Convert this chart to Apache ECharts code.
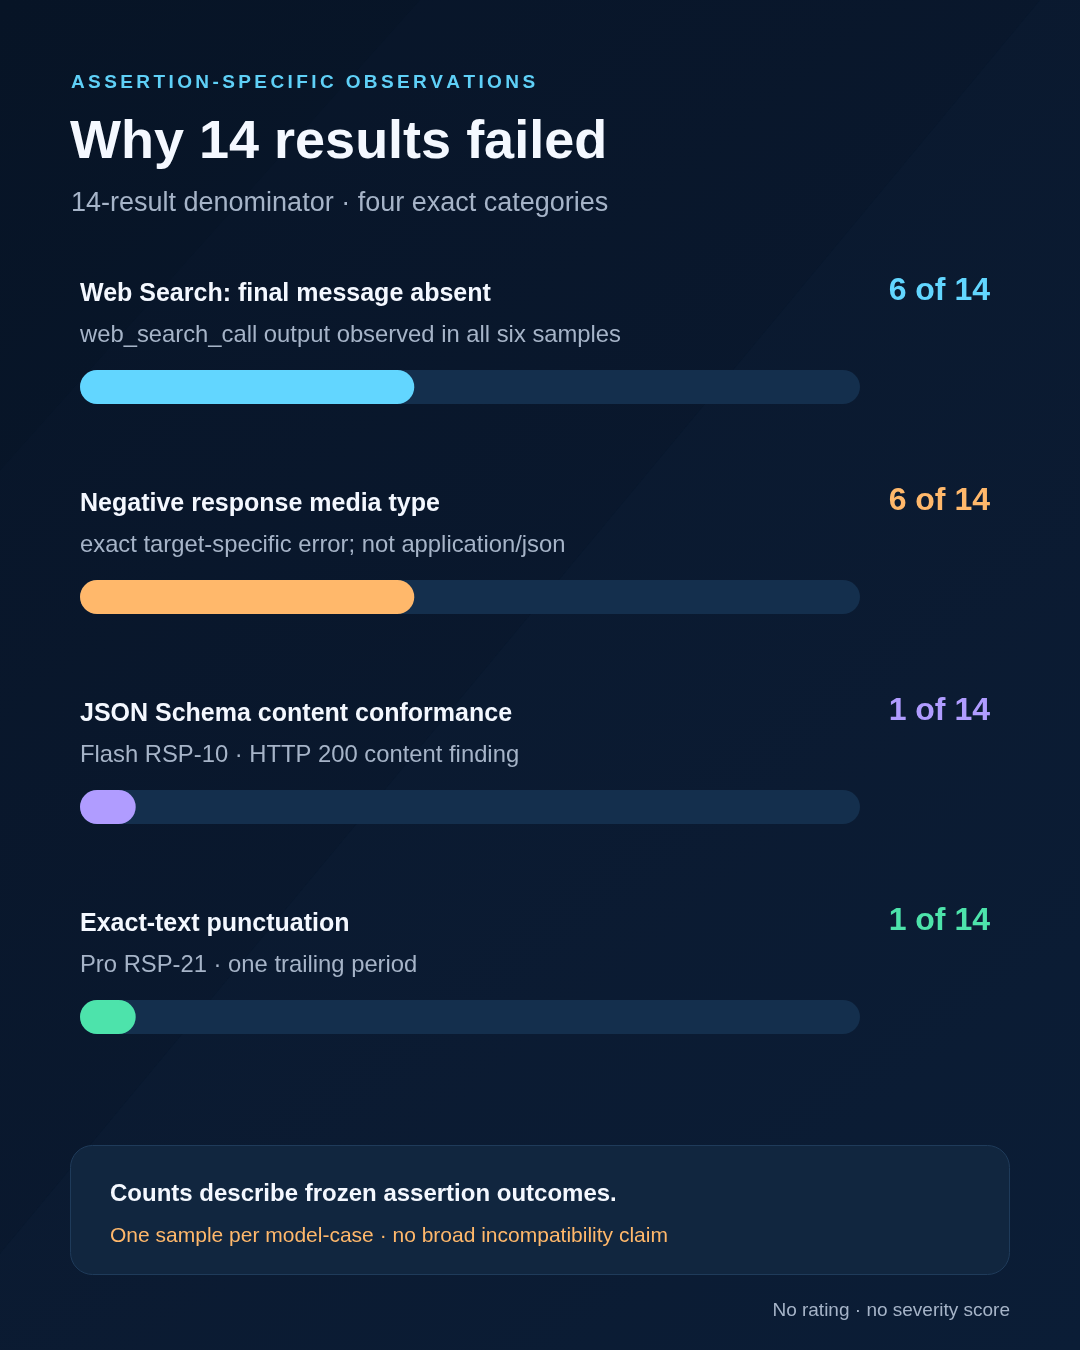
<!DOCTYPE html>
<html>
<head>
<meta charset="utf-8">
<script src="https://cdn.jsdelivr.net/npm/echarts@6/dist/echarts.min.js"></script>
<style>
  html, body { margin: 0; padding: 0; background: #08162a; }
  #chart { width: 1080px; height: 1350px; }
</style>
</head>
<body>
<div id="chart"></div>
<script>
// 数据
var categories = [
  'Web Search: final message absent',
  'Negative response media type',
  'JSON Schema content conformance',
  'Exact-text punctuation'
];
var notes = [
  'web_search_call output observed in all six samples',
  'exact target-specific error; not application/json',
  'Flash RSP-10 · HTTP 200 content finding',
  'Pro RSP-21 · one trailing period'
];
var counts = [6, 6, 1, 1];
var total = 14;
var colors = ['#62d6ff', '#ffb86b', '#b09cff', '#4de3ab'];

var FONT = '"Liberation Sans", Arial, Helvetica, sans-serif';
var chart = echarts.init(document.getElementById('chart'), null, { renderer: 'canvas' });

// 字距 eyebrow：逐字绘制
function spacedText(str, x, y, size, spacing, color) {
  var ctx = document.createElement('canvas').getContext('2d');
  ctx.font = '700 ' + size + 'px ' + FONT;
  var out = [];
  var cx = x;
  for (var i = 0; i < str.length; i++) {
    var ch = str[i];
    out.push({
      type: 'text', x: cx, y: y + size * 0.08, silent: true,
      style: { text: ch, fill: color, font: '700 ' + size + 'px ' + FONT, verticalAlign: 'middle' }
    });
    cx += ctx.measureText(ch).width + spacing;
  }
  return out;
}

function txt(s, x, y, size, weight, color, align) {
  return {
    type: 'text', x: x, y: y + size * 0.08, silent: true,
    style: {
      text: s, fill: color, font: weight + ' ' + size + 'px ' + FONT,
      align: align || 'left', verticalAlign: 'middle'
    }
  };
}

var graphics = [
  // 背景斜线块
  { type: 'polygon', silent: true, z: -10,
    shape: { points: [[1040, 0], [1080, 0], [1080, 1350], [-80, 1350]] },
    style: { fill: 'rgba(30,60,100,0.10)' } },
  { type: 'polygon', silent: true, z: -10,
    shape: { points: [[420, 0], [1040, 0], [-80, 1350], [-80, 560]] },
    style: { fill: 'rgba(30,60,100,0.05)' } }
];

graphics = graphics.concat(spacedText('ASSERTION-SPECIFIC OBSERVATIONS', 71, 81, 19, 3.4, '#5fd0f7'));
graphics.push(txt('Why 14 results failed', 70, 139, 54, 700, '#f4f8ff'));
graphics.push(txt('14-result denominator · four exact categories', 71, 201, 27, 400, '#a6b4c8'));

for (var i = 0; i < categories.length; i++) {
  var dy = 210 * i;
  graphics.push(txt(categories[i], 80, 292 + dy, 25, 700, '#f4f8ff'));
  graphics.push(txt(notes[i], 80, 334 + dy, 23.8, 400, '#a6b4c8'));
  graphics.push(txt(counts[i] + ' of ' + total, 990, 289 + dy, 32, 700, colors[i], 'right'));
}

// 底部说明框
graphics.push({
  type: 'rect', silent: true,
  shape: { x: 70.5, y: 1145.5, width: 939, height: 129, r: 22 },
  style: { fill: '#11263f', stroke: '#1f3b5a', lineWidth: 1 }
});
graphics.push(txt('Counts describe frozen assertion outcomes.', 110, 1192, 24, 700, '#f4f8ff'));
graphics.push(txt('One sample per model-case · no broad incompatibility claim', 110, 1235, 21, 400, '#ffb86b'));
graphics.push(txt('No rating · no severity score', 1010, 1309, 19, 400, '#a6b4c8', 'right'));

var option = {
  backgroundColor: {
    type: 'linear', x: 0, y: 0, x2: 1, y2: 1,
    colorStops: [{ offset: 0, color: '#071426' }, { offset: 1, color: '#0a1a31' }]
  },
  animation: false,
  grid: { left: 80, top: 282, width: 780, height: 840 },
  xAxis: { type: 'value', min: 0, max: total, show: false },
  yAxis: { type: 'category', data: categories, inverse: true, show: false },
  series: [{
    type: 'bar',
    barWidth: 34,
    showBackground: true,
    backgroundStyle: { color: '#142f4d', borderRadius: 17 },
    itemStyle: {
      borderRadius: 17,
      color: function(p) { return colors[p.dataIndex]; }
    },
    data: counts,
    silent: true
  }],
  graphic: graphics
};

chart.setOption(option);
</script>
</body>
</html>
